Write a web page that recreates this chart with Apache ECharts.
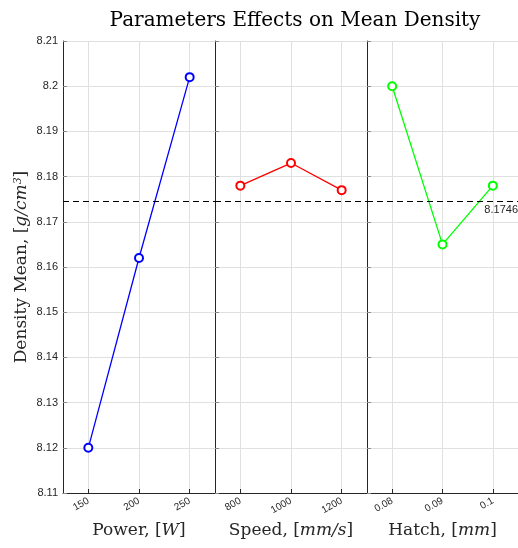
<!DOCTYPE html>
<html>
<head>
    <meta charset="utf-8">
    <title>Parameters Effects on Mean Density</title>
    <script src="https://cdn.jsdelivr.net/npm/echarts@6/dist/echarts.min.js"></script>
    <style>
        html, body { margin: 0; padding: 0; background: #fff; }
        #main { width: 518px; height: 548px; }
    </style>
</head>
<body>
<div id="main"></div>
<script type="text/javascript">
    // data
    var power = [150, 200, 250];
    var powerMean = [8.120, 8.162, 8.202];
    var speed = [800, 1000, 1200];
    var speedMean = [8.178, 8.183, 8.177];
    var hatch = [0.08, 0.09, 0.1];
    var hatchMean = [8.200, 8.165, 8.178];
    var overallMean = 8.1746;

    var xRanges = [[125, 275], [700, 1300], [0.075, 0.105]];
    var xTicks = [power, speed, hatch];
    var xNames = [
        '{n|Power, [}{i|W}{n|]}',
        '{n|Speed, [}{i|mm/s}{n|]}',
        '{n|Hatch, [}{i|mm}{n|]}'
    ];
    var colors = ['#0000ff', '#ff0000', '#00ff00'];

    var serif = 'DejaVu Serif';
    var sans = 'Liberation Sans';
    var ink = '#262626';
    var gridColor = '#e0e0e0';

    var nameRich = {
        n: { fontFamily: serif, fontSize: 17, color: ink },
        i: { fontFamily: serif, fontSize: 17, fontStyle: 'italic', color: ink },
        s: { fontFamily: serif, fontSize: 11, fontStyle: 'italic', color: ink, verticalAlign: 'top' }
    };

    function zip(xs, ys) {
        var out = [];
        for (var i = 0; i < xs.length; i++) out.push([xs[i], ys[i]]);
        return out;
    }

    var lefts = [63, 215, 367];
    var grids = [], xAxes = [], yAxes = [], series = [];
    var seriesData = [zip(power, powerMean), zip(speed, speedMean), zip(hatch, hatchMean)];

    for (var k = 0; k < 3; k++) {
        grids.push({ left: lefts[k], width: 152, top: 41, height: 452 });

        xAxes.push({
            type: 'value',
            gridIndex: k,
            min: xRanges[k][0],
            max: xRanges[k][1],
            name: xNames[k],
            nameLocation: 'middle',
            nameGap: 29,
            nameTextStyle: { rich: nameRich },
            axisLine: { show: true, lineStyle: { color: ink, width: 1 } },
            axisTick: { show: true, inside: true, length: 4, customValues: xTicks[k], lineStyle: { color: ink } },
            axisLabel: {
                customValues: xTicks[k],
                rotate: 30,
                margin: 7,
                fontFamily: sans,
                fontSize: 10,
                color: ink,
                formatter: function (v) { return String(+(+v).toFixed(3)); }
            },
            splitLine: { show: true, lineStyle: { color: gridColor, width: 1 } }
        });

        yAxes.push({
            type: 'value',
            gridIndex: k,
            min: 8.11,
            max: 8.21,
            interval: 0.01,
            name: k === 0 ? '{n|Density Mean, [}{i|g/cm}{s|3}{n|]}' : '',
            nameLocation: 'middle',
            nameGap: 33,
            nameTextStyle: { rich: nameRich },
            axisLine: { show: true, lineStyle: { color: ink, width: 1 } },
            axisTick: { show: true, inside: true, length: 4, lineStyle: { color: '#8a8a8a' } },
            axisLabel: {
                show: k === 0,
                margin: 5,
                fontFamily: sans,
                fontSize: 11,
                color: ink,
                formatter: function (v) { return String(+(+v).toFixed(2)); }
            },
            splitLine: { show: true, lineStyle: { color: gridColor, width: 1 } }
        });

        series.push({
            type: 'line',
            xAxisIndex: k,
            yAxisIndex: k,
            data: seriesData[k],
            symbol: 'emptyCircle',
            symbolSize: 8,
            lineStyle: { color: colors[k], width: 1.3 },
            itemStyle: { color: colors[k], borderColor: colors[k], borderWidth: 1 },
            markLine: {
                silent: true,
                precision: 4,
                symbol: ['none', 'none'],
                lineStyle: { color: '#000', type: [6, 4], width: 1 },
                label: {
                    show: k === 2,
                    position: 'insideEndBottom',
                    distance: [0, 3],
                    fontFamily: sans,
                    fontSize: 11,
                    color: ink,
                    formatter: function (p) { return String(p.value); }
                },
                data: [{ yAxis: overallMean }]
            }
        });
    }

    var myChart = echarts.init(document.getElementById('main'));
    var option = {
        animation: false,
        backgroundColor: '#fff',
        title: {
            text: 'Parameters Effects on Mean Density',
            left: 290,
            textAlign: 'center',
            top: 6,
            textStyle: { fontFamily: serif, fontSize: 20, fontWeight: 'normal', color: '#000' }
        },
        grid: grids,
        xAxis: xAxes,
        yAxis: yAxes,
        series: series
    };
    myChart.setOption(option);
</script>
</body>
</html>
